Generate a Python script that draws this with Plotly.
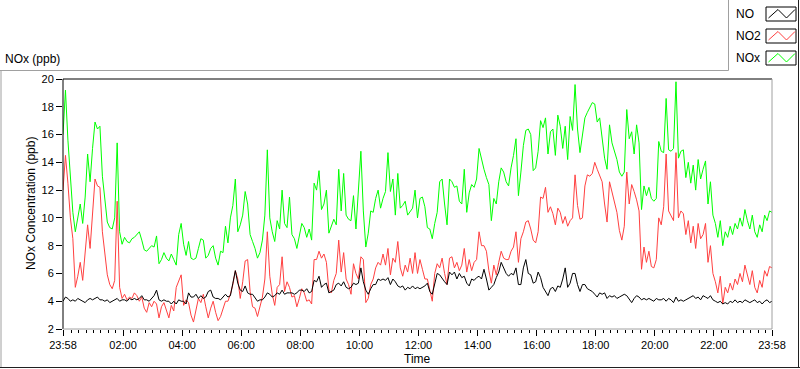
import pandas as pd
import plotly.graph_objects as go

# ---------------- data (5-minute samples, 23:58 -> 23:58) ----------------
nox = [
    16.0, 19.2, 15.6, 13.0, 10.4, 9.0, 10.0, 11.0, 9.6, 11.5,
    14.6, 12.6, 15.0, 16.9, 16.4, 16.6, 13.0, 11.4, 9.7, 9.3,
    9.2, 10.0, 15.4, 9.0, 8.1, 8.6, 8.3, 8.2, 8.5, 8.6,
    8.8, 9.0, 8.4, 7.7, 7.6,
    7.8, 8.0, 7.9, 8.7, 6.7, 7.0, 7.5, 7.1, 6.9, 7.4,
    7.0, 6.6, 8.8, 9.6, 8.1, 7.3, 8.3, 7.1, 7.0, 7.1,
    7.8, 8.5, 8.4, 7.1, 7.3, 7.8, 8.0, 7.1, 6.6, 7.6,
    7.5, 9.4, 8.2, 10.0, 10.9, 12.8,
    9.0, 9.5, 10.2, 11.9, 11.0, 8.8, 8.3, 7.8, 7.1, 7.5,
    8.4, 10.2, 14.9, 10.0, 9.0, 8.3, 9.8, 9.2, 12.0, 9.6,
    9.3, 11.5, 8.8, 8.5, 7.8, 8.8, 9.6, 9.3, 8.6, 9.2,
    8.4, 12.5, 12.0, 13.4, 10.6, 11.0, 12.0,
    8.9, 9.4, 9.9, 9.5, 13.5, 10.5, 13.2, 10.2, 9.9, 9.8,
    11.6, 9.2, 11.8, 14.8, 10.5, 7.9, 8.9, 10.5, 10.4, 11.4,
    12.0, 10.7, 11.4, 11.9, 14.7, 11.9, 12.8, 10.2, 13.2, 10.7,
    10.9, 11.2, 10.2, 10.5, 10.7, 12.0,
    10.0, 11.4, 11.5, 10.8, 9.3, 9.2, 8.5, 9.6, 10.4, 12.6,
    12.8, 11.0, 9.5, 12.8, 12.6, 12.2, 12.3, 11.2, 11.0, 13.5,
    10.4, 11.8, 12.4, 12.2, 12.8, 15.0, 14.2, 13.5, 12.9, 12.4,
    9.8, 11.4, 11.0, 12.6, 13.6, 13.3, 12.6,
    12.3, 13.6, 14.5, 15.7, 11.6, 13.3, 15.2, 16.3, 16.4, 16.0,
    13.4, 13.6, 14.8, 17.0, 16.5, 17.2, 14.6, 16.2, 16.4, 14.5,
    17.4, 16.6, 15.0, 16.6, 14.2, 17.3, 16.3, 19.6, 16.4, 14.7,
    15.8, 17.2, 17.6, 18.0, 18.3, 18.2, 16.9,
    17.2, 15.5, 14.3, 13.5, 16.7, 15.4, 14.8, 14.2, 13.3, 13.0,
    13.3, 17.8, 15.7, 16.2, 14.6, 16.7, 15.4, 10.6, 12.3, 11.6,
    12.2, 11.4, 11.2, 11.4, 15.5, 14.8, 14.7, 18.6, 14.9, 14.8,
    15.0, 19.8, 14.3, 14.8, 14.9, 12.9,
    14.0, 12.5, 13.8, 12.0, 14.2, 12.8, 13.5, 14.1, 11.0, 12.6,
    10.2, 9.6, 8.6, 9.8, 8.0, 9.0, 8.6, 9.4, 8.8, 9.6,
    9.2, 10.0, 9.4, 10.6, 9.8, 9.2, 10.2, 9.0, 8.6, 9.5,
    9.0, 10.2, 9.8, 10.5, 10.4,
]

no2 = [
    12.0, 14.5, 12.5, 10.0, 8.5, 5.0, 5.8, 6.8, 5.5, 7.5,
    9.5, 7.8, 10.5, 12.8, 12.3, 12.2, 9.0, 7.4, 5.9, 5.2,
    4.9, 5.5, 11.2, 5.0, 4.2, 4.5, 4.1, 4.3, 4.2, 4.6,
    4.4, 4.0, 4.3, 3.5, 3.2,
    3.9, 3.6, 4.0, 3.8, 2.8, 3.6, 3.9, 3.3, 2.8, 3.7,
    3.3, 5.0, 5.5, 5.9, 3.7, 4.1, 3.9, 3.0, 2.5, 3.4,
    4.2, 3.9, 4.5, 3.6, 2.8, 3.5, 4.0, 3.2, 2.6, 2.9,
    3.4, 4.0, 4.0, 4.5, 5.2, 6.2,
    5.6, 4.2, 5.4, 6.9, 7.0, 4.7, 3.6, 3.5, 2.9, 3.7,
    4.3, 5.6, 9.0, 5.8, 4.5, 3.7, 5.0, 5.2, 7.2, 4.7,
    5.4, 5.0, 4.3, 4.4, 3.6, 4.2, 4.9, 4.6, 4.0, 4.1,
    3.8, 7.0, 7.0, 7.6, 7.1, 7.4, 6.8,
    4.8, 4.6, 5.5, 6.0, 8.4, 6.1, 7.5, 5.6, 5.2, 4.5,
    6.7, 6.0, 5.6, 7.2, 7.0, 3.9, 4.2, 5.2, 5.6, 6.4,
    6.8, 6.6, 7.4, 6.6, 7.8, 5.9, 7.1, 6.8, 8.3, 6.4,
    5.8, 6.6, 6.1, 7.1, 6.0, 7.5,
    6.0, 7.0, 6.3, 5.6, 5.6, 4.9, 4.0, 6.0, 6.7, 6.4,
    7.1, 6.0, 5.2, 7.1, 7.2, 6.4, 6.8, 6.2, 6.6, 7.8,
    6.1, 7.0, 6.2, 6.8, 7.0, 9.0, 8.0, 8.0, 7.6, 6.2,
    5.3, 6.6, 5.9, 6.8, 7.6, 7.1, 7.0,
    7.0, 7.6, 7.9, 9.0, 6.8, 8.5, 9.0, 9.7, 9.8, 9.2,
    8.4, 8.2, 9.0, 11.5, 11.4, 12.2, 10.4, 10.8, 10.3, 9.5,
    10.7, 10.4, 9.6, 10.1, 9.4, 9.8, 10.0, 13.1, 10.9, 9.9,
    10.0, 12.3, 13.1, 13.0, 13.2, 14.0, 13.5,
    13.0, 12.6, 11.0, 9.7, 12.6, 11.9, 11.1, 10.4, 9.1, 8.4,
    9.4, 13.3, 11.0, 12.4, 11.9, 11.3, 10.5, 6.3, 7.9, 6.8,
    7.6, 6.5, 6.4, 7.0, 10.0, 9.5, 10.8, 14.6, 10.5, 10.2,
    9.8, 14.7, 10.0, 10.5, 10.3, 8.8,
    9.8, 8.2, 9.4, 7.8, 9.6, 8.5, 8.8, 9.6, 6.8, 8.0,
    6.0, 5.4, 4.6, 5.8, 3.8, 5.0, 4.6, 5.3, 4.8, 5.6,
    5.2, 6.0, 5.4, 6.6, 5.8, 5.2, 6.2, 5.0, 4.6, 5.5,
    5.0, 6.2, 5.8, 6.5, 6.4,
]

no = [
    4.0, 4.3, 4.2, 4.0, 4.1, 4.0, 4.2, 4.1, 4.0, 3.9,
    4.1, 4.2, 4.1, 4.2, 4.3, 4.1, 4.1, 4.0, 4.1, 3.9,
    4.0, 4.1, 4.2, 4.0, 4.1, 4.1, 4.0, 4.2, 4.1, 4.2,
    4.1, 4.2, 4.4, 4.1, 4.1,
    4.0, 4.2, 4.4, 4.8, 4.1, 4.0, 4.1, 4.0, 4.0, 3.8,
    4.0, 3.8, 4.1, 4.0, 4.0, 3.8, 4.6, 4.3, 4.3, 4.5,
    4.2, 4.4, 4.2, 4.3, 4.7, 4.8, 4.3, 4.2, 4.2, 4.1,
    4.3, 4.5, 4.3, 4.4, 5.3, 6.2,
    5.3, 4.8, 4.7, 5.1, 4.6, 4.5, 4.5, 4.2, 4.0, 4.1,
    4.1, 4.3, 4.6, 4.5, 4.3, 4.4, 4.6, 4.5, 4.8, 4.5,
    4.6, 4.6, 4.6, 4.5, 4.6, 4.8, 4.8, 4.7, 4.9, 4.6,
    4.7, 5.5, 5.4, 5.8, 5.0, 5.2, 5.3,
    4.6, 4.7, 4.8, 5.2, 5.3, 5.1, 5.4, 5.0, 4.9, 5.0,
    5.3, 5.2, 5.3, 6.4, 5.4, 4.8, 4.5, 4.9, 5.2, 5.2,
    5.6, 5.5, 5.6, 5.5, 5.7, 5.2, 5.6, 5.4, 5.1, 5.0,
    5.1, 4.8, 5.0, 4.9, 5.1, 4.9,
    5.0, 4.9, 5.0, 5.1, 5.3, 4.7, 4.5, 5.2, 6.0, 5.9,
    5.6, 5.4, 5.2, 6.1, 5.9, 6.1, 5.6, 6.0, 5.7, 5.8,
    5.3, 5.1, 5.6, 5.5, 5.7, 5.8, 5.6, 6.3, 5.6, 4.8,
    5.0, 5.2, 5.7, 6.1, 6.8, 6.4, 6.0,
    5.8, 6.0, 5.9, 6.4, 5.2, 5.2, 6.4, 7.0, 6.0, 5.9,
    5.3, 5.4, 6.1, 5.7, 5.0, 4.7, 4.4, 4.9, 5.0, 4.7,
    5.1, 5.0, 5.6, 6.4, 5.0, 5.3, 6.0, 6.0, 5.2, 4.7,
    5.2, 5.2, 4.9, 4.8, 4.7, 4.5, 4.3,
    4.6, 4.5, 4.6, 4.2, 4.4, 4.3, 4.4, 4.2, 4.3, 4.4,
    4.5, 4.4, 4.1, 3.9, 4.2, 4.4, 4.3, 4.1, 4.2, 4.1,
    4.2, 4.1, 4.0, 4.2, 4.1, 4.1, 4.2, 4.0, 4.2, 4.1,
    3.9, 4.3, 4.0, 4.1, 4.0, 4.1,
    4.2, 4.3, 4.4, 4.2, 4.3, 4.1, 4.4, 4.3, 4.2, 4.4,
    4.1, 4.0, 3.9, 4.0, 3.8, 3.9, 3.8, 4.0, 3.9, 4.1,
    3.9, 4.0, 3.9, 4.1, 4.0, 3.9, 4.0, 4.1, 3.9, 4.0,
    3.8, 4.0, 4.1, 3.9, 4.0,
]

series_names = ["NO", "NO2", "NOx"]
series_colors = ["#000000", "#FF4040", "#00FF00"]

x_tick_labels = ["23:58", "02:00", "04:00", "06:00", "08:00", "10:00", "12:00",
                 "14:00", "16:00", "18:00", "20:00", "22:00", "23:58"]
y_ticks = [2, 4, 6, 8, 10, 12, 14, 16, 18, 20]

# ---------------- time axis ----------------
start = pd.Timestamp("2000-01-01 23:58")
times = pd.date_range(start, periods=len(no), freq="5min")
end = times[-1]
tick_times = [start] + [pd.Timestamp("2000-01-02 " + t) for t in x_tick_labels[1:-1]] + [end]

# ---------------- geometry (pixels) ----------------
W_IMG, H_IMG = 800, 369
L, R, T, B = 63, 772, 79, 329
PW, PH = R - L, B - T


def px(x):
    return (x - L) / PW


def py(y):
    return (B - y) / PH


FONT = "Liberation Sans, Arial, sans-serif"

fig = go.Figure()
for name, vals in [("NOx", nox), ("NO2", no2), ("NO", no)]:
    idx = series_names.index(name)
    fig.add_trace(go.Scatter(
        x=times, y=vals, mode="lines", name=name,
        line=dict(color=series_colors[idx], width=1),
        showlegend=False, hoverinfo="skip",
    ))

shapes = []


def line(x0, y0, x1, y1, color, width=1):
    shapes.append(dict(type="line", xref="paper", yref="paper",
                       x0=px(x0), y0=py(y0), x1=px(x1), y1=py(y1),
                       line=dict(color=color, width=width), layer="above"))


# plot frame
line(L, T, R, T, "#000000")
line(L, T, L, B, "#000000")
line(R, T, R, B, "#A0A0A0")
line(L, B, R, B, "#A0A0A0")

# outer panel frame
line(0, 70.5, 728.5, 70.5, "#A0A0A0")
line(728.5, 0, 728.5, 70.5, "#A0A0A0")
line(1, 70.5, 1, 368, "#A0A0A0")
line(0, 367.5, 800, 367.5, "#202020")
line(798.5, 0, 798.5, 368, "#202020")

annotations = []
# legend boxes
for i, (name, color) in enumerate(zip(series_names, series_colors)):
    dy = 22 * i
    shapes.append(dict(type="rect", xref="paper", yref="paper",
                       x0=px(766), y0=py(7 + dy), x1=px(796), y1=py(21 + dy),
                       line=dict(color="#000000", width=1), fillcolor="white", layer="above"))
    pts = [(768.5, 18 + dy), (778, 9.5 + dy), (786.5, 18 + dy), (795, 9.5 + dy)]
    path = "M " + " L ".join(f"{px(a):.5f},{py(b):.5f}" for a, b in pts)
    shapes.append(dict(type="path", xref="paper", yref="paper", path=path,
                       line=dict(color=color, width=1), layer="above"))
    annotations.append(dict(text=name, xref="paper", yref="paper",
                            x=px(734), y=py(14 + dy), xanchor="left", yanchor="middle",
                            showarrow=False, font=dict(family=FONT, size=12, color="#000000")))

annotations.append(dict(text="NOx (ppb)", xref="paper", yref="paper",
                        x=px(3), y=py(59), xanchor="left", yanchor="middle",
                        showarrow=False, font=dict(family=FONT, size=12, color="#000000")))
annotations.append(dict(text="NOx Concentration (ppb)", xref="paper", yref="paper",
                        x=px(31), y=py(204), xanchor="center", yanchor="middle", textangle=-90,
                        showarrow=False, font=dict(family=FONT, size=12, color="#000000")))
annotations.append(dict(text="Time", xref="paper", yref="paper",
                        x=px(417), y=py(359), xanchor="center", yanchor="middle",
                        showarrow=False, font=dict(family=FONT, size=12, color="#000000")))

fig.update_layout(
    width=W_IMG, height=H_IMG,
    margin=dict(l=L, r=W_IMG - R, t=T, b=H_IMG - B, pad=0),
    paper_bgcolor="white", plot_bgcolor="white",
    font=dict(family=FONT, size=11, color="#000000"),
    shapes=shapes, annotations=annotations,
    xaxis=dict(
        type="date", range=[start, end], showgrid=False, zeroline=False, showline=False,
        tickmode="array", tickvals=tick_times, ticktext=x_tick_labels,
        ticks="outside", ticklen=6, tickcolor="#000000", tickwidth=1,
        tickfont=dict(family=FONT, size=11, color="#000000"),
        minor=dict(ticks="outside", ticklen=3, tickcolor="#000000", tickwidth=1,
                   dtick=15 * 60 * 1000, tick0="2000-01-02 00:00", showgrid=False),
    ),
    yaxis=dict(
        range=[2, 20], showgrid=False, zeroline=False, showline=False,
        tickmode="array", tickvals=y_ticks, ticktext=[str(v) for v in y_ticks],
        ticks="outside", ticklen=6, tickcolor="#000000", tickwidth=1,
        tickfont=dict(family=FONT, size=11, color="#000000"),
    ),
)

fig.write_html(
    "out.html",
    config={"displayModeBar": False, "staticPlot": True},
    post_script="document.body.style.margin='0';document.body.style.overflow='hidden';",
)
